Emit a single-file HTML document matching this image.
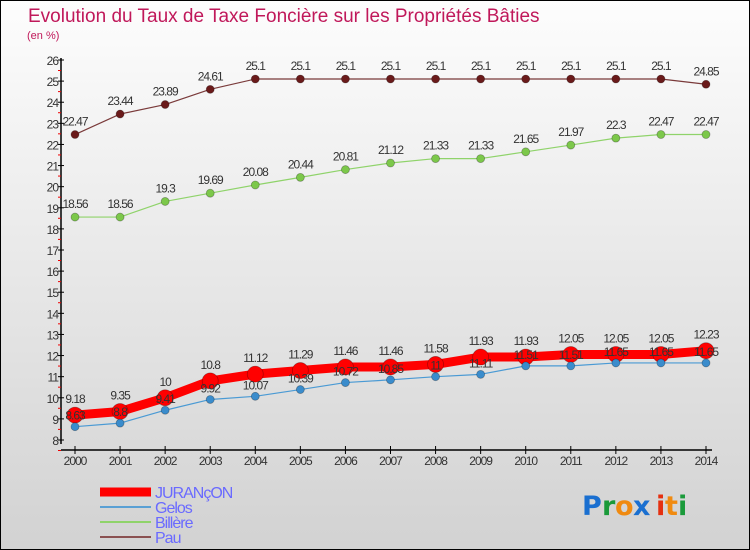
<!DOCTYPE html>
<html><head><meta charset="utf-8"><style>
html,body{margin:0;padding:0;}
body{width:750px;height:550px;overflow:hidden;font-family:"Liberation Sans",sans-serif;}
#frame{position:absolute;left:0;top:0;width:748px;height:548px;border:1px solid #000;background:linear-gradient(#fdfdfd,#d2d2d2);}
</style></head><body>
<div id="frame"></div>
<svg id="chart" width="750" height="550" style="position:absolute;left:0;top:0">
<text x="28" y="22" font-size="19" fill="#c0185a">Evolution du Taux de Taxe Foncière sur les Propriétés Bâties</text>
<text x="27" y="39" font-size="11" fill="#c0185a">(en %)</text>
<g id="axes"></g><g id="series"></g><g id="legend"></g>
<g font-size="27" font-family="'DejaVu Sans',sans-serif" font-weight="bold">
<text x="582" y="515" fill="#1a6fd0">P</text><text x="602" y="515" fill="#1a9a3a">r</text><text x="615" y="515" fill="#f08a10">o</text><text x="633" y="515" fill="#1a6fd0">x</text><text x="656" y="515" fill="#e53010">i</text><text x="665" y="515" fill="#f08a10">t</text><text x="678" y="515" fill="#1a9a3a">i</text>
</g>
</svg>
<script>
const years=[2000,2001,2002,2003,2004,2005,2006,2007,2008,2009,2010,2011,2012,2013,2014];
const jurancon=[9.18,9.35,10,10.8,11.12,11.29,11.46,11.46,11.58,11.93,11.93,12.05,12.05,12.05,12.23];
const gelos=[8.63,8.8,9.41,9.92,10.07,10.39,10.72,10.85,11,11.11,11.51,11.51,11.65,11.65,11.65];
const billere=[18.56,18.56,19.3,19.69,20.08,20.44,20.81,21.12,21.33,21.33,21.65,21.97,22.3,22.47,22.47];
const pau=[22.47,23.44,23.89,24.61,25.1,25.1,25.1,25.1,25.1,25.1,25.1,25.1,25.1,25.1,24.85];
const yTicks=[8,9,10,11,12,13,14,15,16,17,18,19,20,21,22,23,24,25,26];
const NS="http://www.w3.org/2000/svg";
function X(i){return 75+(i)*(706-75)/(years.length-1);}
function Y(v){return 440-(v-8)*(380/18);}
function mk(tag,attrs,parent,txt){const e=document.createElementNS(NS,tag);for(const k in attrs)e.setAttribute(k,attrs[k]);if(txt!==undefined)e.textContent=txt;parent.appendChild(e);return e;}
const axes=document.getElementById('axes');
let e=mk('line',{x1:61,y1:58,x2:61,y2:444,stroke:'#000','stroke-width':1.5},axes);

e=mk('line',{x1:61,y1:450,x2:712,y2:450,stroke:'#000','stroke-width':1.5},axes);

yTicks.forEach(v=>{const y=Y(v);
 mk('line',{x1:58,y1:y,x2:64,y2:y,stroke:'#000'},axes);
 mk('line',{x1:58,y1:y+10.5,x2:61,y2:y+10.5,stroke:'#e00'},axes);
 e=mk('text',{x:58,y:y+5,'font-size':12,'text-anchor':'end',fill:'#333','letter-spacing':'-1'},axes,String(v));
 
});
years.forEach((yr,i)=>{const x=X(i);
 mk('line',{x1:x,y1:446,x2:x,y2:454,stroke:'#000'},axes);
 e=mk('text',{x:x,y:465,'font-size':12,'text-anchor':'middle',fill:'#333','letter-spacing':'-1'},axes,String(yr));
 
});
const ser=document.getElementById('series');
function drawSeries(name,vals,color,lw,r,dotColor,labDy){
 const g=mk('g',{},ser);
 const pts=vals.map((v,i)=>X(i)+','+Y(v)).join(' ');
 mk('polyline',{points:pts,fill:'none',stroke:color,'stroke-width':lw,'stroke-linejoin':'round'},g);
 vals.forEach((v,i)=>{let c=mk('circle',{cx:X(i),cy:Y(v),r:r,fill:dotColor,stroke:'rgba(0,0,0,0.3)','stroke-width':0.8},g);
  
  let t=mk('text',{x:X(i),y:Y(v)+labDy,'font-size':12,'text-anchor':'middle',fill:'#333','letter-spacing':'-1'},g,String(v));
  });
}
drawSeries('pau',pau,'#7a3a3a',1.2,4,'#6a1a1a',-9);
drawSeries('billere',billere,'#8fd36a',1.2,4,'#7cc84a',-9);
drawSeries('jurancon',jurancon,'#f00',9,8,'#f00',-12);
drawSeries('gelos',gelos,'#4a9ad4',1.2,4,'#3a8ccc',-7);
const lg=document.getElementById('legend');
const items=[['JURANçON','#f00',9],['Gelos','#5aa0d4',2],['Billère','#8fd36a',2],['Pau','#8a5050',2]];
items.forEach((it,k)=>{const y=492+k*15;
 const g=mk('g',{},lg);
 mk('line',{x1:100,y1:y,x2:151,y2:y,stroke:it[1],'stroke-width':it[2]},g);
 mk('text',{x:155,y:y+6,'font-size':16,fill:'#6a6aff','letter-spacing':'-1'},g,it[0]);
});
</script>
</body></html>
